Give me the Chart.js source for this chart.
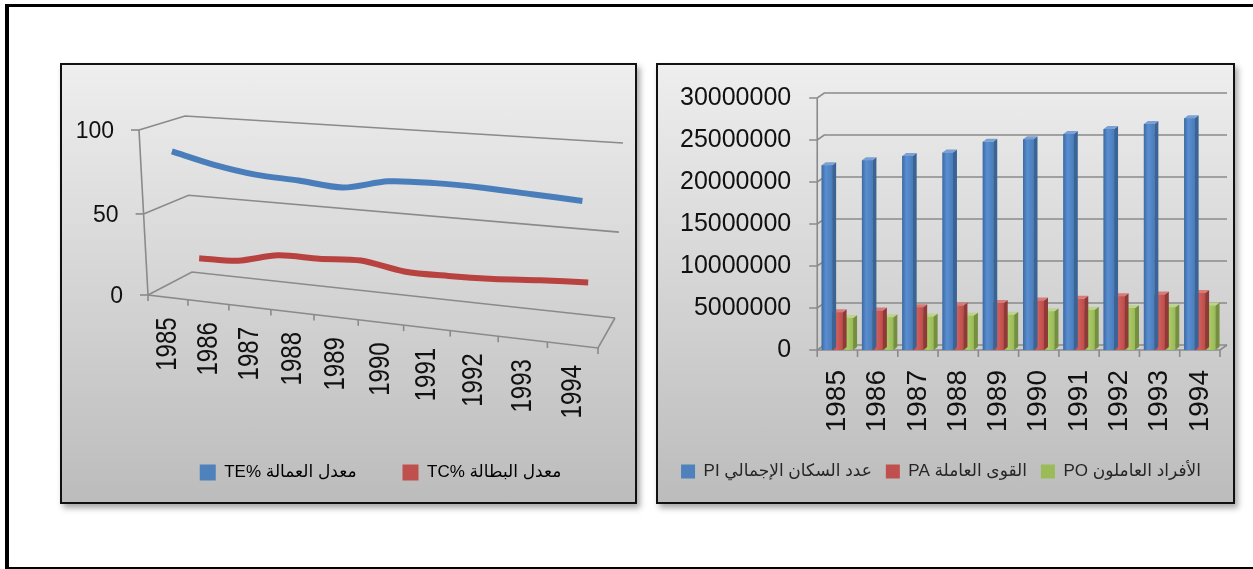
<!DOCTYPE html>
<html lang="ar">
<head>
<meta charset="utf-8">
<script src="https://cdn.jsdelivr.net/npm/chart.js@4.4.1/dist/chart.umd.min.js"></script>
<style>
  html, body { margin: 0; padding: 0; background: #fff; }
  body { width: 1253px; height: 569px; position: relative; overflow: hidden; }
  .frame {
    position: absolute; left: 5px; top: 4px; width: 1300px; height: 565px;
    border-left: 4px solid #000; border-top: 3px solid #000; border-bottom: 2px solid #000;
    box-sizing: border-box;
  }
  .panel {
    position: absolute; top: 63px; height: 441px;
    border: 2px solid #111; box-sizing: border-box;
    background: linear-gradient(#eeeeee, #bcbcbc);
    box-shadow: 3px 4px 6px rgba(0, 0, 0, 0.35);
  }
  #leftPanel { left: 60px; width: 577px; }
  #rightPanel { left: 656px; width: 579px; }
  .panel canvas { position: absolute; left: 0; top: 0; }
</style>
</head>
<body>
<div class="frame"></div>
<div class="panel" id="leftPanel"><canvas id="rateChart" width="573" height="437"></canvas></div>
<div class="panel" id="rightPanel"><canvas id="popChart" width="575" height="437"></canvas></div>
<script>
const years = ["1985", "1986", "1987", "1988", "1989", "1990", "1991", "1992", "1993", "1994"];

// rates, percent
const employmentRate = [86, 80, 76, 74.5, 72.5, 78, 79, 78.5, 77, 75.5];
const unemploymentRate = [14, 15, 21, 21.5, 23, 19, 19, 20, 22, 23.5];
const rateTicks = [0, 50, 100];

// persons
const totalPopulation = [22000000, 22600000, 23100000, 23500000, 24800000, 25100000, 25700000, 26300000, 26900000, 27600000];
const labourForce = [4500000, 4700000, 5100000, 5300000, 5600000, 5900000, 6100000, 6400000, 6600000, 6800000];
const employedPersons = [3800000, 3900000, 4000000, 4100000, 4200000, 4600000, 4800000, 5000000, 5100000, 5300000];
const populationMax = 30000000;
const populationStep = 5000000;

const textFont = '"Liberation Sans", "DejaVu Sans", sans-serif';
const gridColor = "#8a8a8a";

// ---------- left chart: lines standing in a tilted box ----------

// unit square -> quad (p0 = u0v0, p1 = u1v0, p2 = u1v1, p3 = u0v1)
function quadMap(p0, p1, p2, p3) {
  const sx = p0[0] - p1[0] + p2[0] - p3[0];
  const sy = p0[1] - p1[1] + p2[1] - p3[1];
  const dx1 = p1[0] - p2[0], dx2 = p3[0] - p2[0];
  const dy1 = p1[1] - p2[1], dy2 = p3[1] - p2[1];
  const den = dx1 * dy2 - dx2 * dy1;
  const g = (sx * dy2 - dx2 * sy) / den;
  const h = (dx1 * sy - sx * dy1) / den;
  const a = p1[0] - p0[0] + g * p1[0], b = p3[0] - p0[0] + h * p3[0], c = p0[0];
  const d = p1[1] - p0[1] + g * p1[1], e = p3[1] - p0[1] + h * p3[1], f = p0[1];
  return (u, v) => {
    const w = g * u + h * v + 1;
    return [(a * u + b * v + c) / w, (d * u + e * v + f) / w];
  };
}

const backWall = quadMap([130, 207], [553, 253], [561, 78], [123, 51]);
const frontWall = quadMap([86, 230], [536, 283], [544, 96], [77, 65]);

function project(u, v, depth) {
  const b = backWall(u, v), f = frontWall(u, v);
  return [b[0] + (f[0] - b[0]) * depth, b[1] + (f[1] - b[1]) * depth];
}

function unitX(scale, i) {
  return (scale.getPixelForValue(i) - scale.left) / scale.width;
}
function unitY(scale, value) {
  return (scale.bottom - scale.getPixelForValue(value)) / scale.height;
}

const perspectiveBox = {
  id: "perspectiveBox",
  afterDatasetsUpdate(chart, args, opts) {
    const xs = chart.scales.x, ys = chart.scales.y;
    chart.data.datasets.forEach((ds, di) => {
      const meta = chart.getDatasetMeta(di);
      const depth = opts.depth[di];
      meta.data.forEach((pt, i) => {
        const p = project(unitX(xs, i), unitY(ys, ds.data[i]), depth);
        pt.x = p[0];
        pt.y = p[1];
      });
      meta.dataset.points = meta.data;
      if (meta.dataset.updateControlPoints) {
        meta.dataset.updateControlPoints(chart.chartArea, "x");
      }
    });
  },
  beforeDatasetsDraw(chart, args, opts) {
    const ctx = chart.ctx;
    const xs = chart.scales.x, ys = chart.scales.y;
    const line = (pts) => {
      ctx.beginPath();
      ctx.moveTo(pts[0][0], pts[0][1]);
      pts.slice(1).forEach((p) => ctx.lineTo(p[0], p[1]));
      ctx.stroke();
    };
    ctx.save();
    ctx.strokeStyle = gridColor;
    ctx.lineWidth = 1.6;

    // side wall + back wall lines, one per value tick
    rateTicks.forEach((t) => {
      const v = unitY(ys, t);
      line([project(0, v, 1), project(0, v, 0), project(1, v, 0)]);
      const fp = project(0, v, 1);
      line([[fp[0] - 8, fp[1]], fp]);
    });
    // value axis and floor outline
    line([project(0, 1, 1), project(0, 0, 1), project(1, 0, 1), project(1, 0, 0)]);

    // category tick marks on the front floor edge
    const n = years.length;
    for (let k = 0; k <= n; k++) {
      const p = project(k / n, 0, 1);
      line([p, [p[0], p[1] + 6]]);
    }

    // value labels
    ctx.fillStyle = "#111";
    ctx.font = "23px " + textFont;
    ctx.textAlign = "right";
    ctx.textBaseline = "middle";
    rateTicks.forEach((t) => {
      const p = project(0, unitY(ys, t), 1);
      ctx.fillText(String(t), p[0] - 25, p[1] + 2);
    });

    // year labels, rotated
    ctx.font = "24px " + textFont;
    years.forEach((yr, i) => {
      const p = project(unitX(xs, i), 0, 1);
      ctx.save();
      ctx.translate(p[0], p[1] + 20);
      ctx.scale(1.25, 1);
      ctx.rotate(-Math.PI / 2);
      ctx.fillText(yr, 0, 0);
      ctx.restore();
    });
    ctx.restore();
  }
};

new Chart(document.getElementById("rateChart"), {
  type: "line",
  data: {
    labels: years,
    datasets: [
      {
        label: "TE% معدل العمالة",
        data: employmentRate,
        borderColor: "#4a7ebb",
        backgroundColor: "#4f81bd",
        borderWidth: 6,
        tension: 0.3,
        capBezierPoints: false,
        pointRadius: 0,
        clip: false
      },
      {
        label: "TC% معدل البطالة",
        data: unemploymentRate,
        borderColor: "#b8423f",
        backgroundColor: "#c0504d",
        borderWidth: 6,
        tension: 0.3,
        capBezierPoints: false,
        pointRadius: 0,
        clip: false
      }
    ]
  },
  options: {
    responsive: false,
    animation: false,
    events: [],
    layout: { padding: { left: 64, bottom: 11 } },
    scales: {
      x: { display: false, offset: true },
      y: { display: false, min: 0, max: 100 }
    },
    plugins: {
      tooltip: { enabled: false },
      perspectiveBox: { depth: [0.75, 0.25] },
      legend: {
        position: "bottom",
        labels: {
          boxWidth: 16,
          boxHeight: 16,
          padding: 46,
          color: "#262626",
          font: { family: textFont, size: 17 },
          generateLabels(chart) {
            return chart.data.datasets.map((ds, i) => ({
              text: ds.label,
              fillStyle: ds.backgroundColor,
              strokeStyle: ds.backgroundColor,
              lineWidth: 0,
              datasetIndex: i
            }));
          }
        }
      }
    }
  },
  plugins: [perspectiveBox]
});

// ---------- right chart: columns with depth ----------

const columnDepth = {
  id: "columnDepth",
  beforeDatasetsDraw(chart, args, o) {
    const { ctx, chartArea: a, scales: { x, y } } = chart;
    ctx.save();
    ctx.strokeStyle = gridColor;
    ctx.lineWidth = 1.6;
    y.ticks.forEach((t) => {
      const py = y.getPixelForValue(t.value);
      ctx.beginPath();
      ctx.moveTo(a.left - 8, py);
      ctx.lineTo(a.left, py);
      ctx.lineTo(a.left + o.dx, py - o.dy);
      ctx.lineTo(a.right + o.dx, py - o.dy);
      ctx.stroke();
    });
    ctx.beginPath();
    ctx.moveTo(a.left, a.top);
    ctx.lineTo(a.left, a.bottom);
    ctx.lineTo(a.right, a.bottom);
    ctx.lineTo(a.right + o.dx, a.bottom - o.dy);
    ctx.stroke();
    const n = x.ticks.length;
    for (let k = 0; k <= n; k++) {
      const px = a.left + (k * a.width) / n;
      ctx.beginPath();
      ctx.moveTo(px, a.bottom);
      ctx.lineTo(px, a.bottom + 7);
      ctx.stroke();
    }
    ctx.restore();
  },
  afterDatasetDraw(chart, args, o) {
    const ctx = chart.ctx;
    const face = o.faces[args.index];
    ctx.save();
    args.meta.data.forEach((bar) => {
      const { x, y, base, width } = bar.getProps(["x", "y", "base", "width"], true);
      const r = x + width / 2, l = x - width / 2;
      // shaded front
      const grad = ctx.createLinearGradient(l, 0, r, 0);
      grad.addColorStop(0, face.dark);
      grad.addColorStop(0.4, face.light);
      grad.addColorStop(1, face.front);
      ctx.fillStyle = grad;
      ctx.fillRect(l, y, r - l, base - y);
      // right side
      ctx.fillStyle = face.side;
      ctx.beginPath();
      ctx.moveTo(r, y);
      ctx.lineTo(r + o.bx, y - o.by);
      ctx.lineTo(r + o.bx, base - o.by);
      ctx.lineTo(r, base);
      ctx.closePath();
      ctx.fill();
      // top
      ctx.fillStyle = face.top;
      ctx.beginPath();
      ctx.moveTo(l, y);
      ctx.lineTo(r, y);
      ctx.lineTo(r + o.bx, y - o.by);
      ctx.lineTo(l + o.bx, y - o.by);
      ctx.closePath();
      ctx.fill();
    });
    ctx.restore();
  }
};

new Chart(document.getElementById("popChart"), {
  type: "bar",
  data: {
    labels: years,
    datasets: [
      { label: "PI عدد السكان الإجمالي", data: totalPopulation, backgroundColor: "#4f81bd" },
      { label: "PA القوى العاملة", data: labourForce, backgroundColor: "#c0504d" },
      { label: "PO الأفراد العاملون", data: employedPersons, backgroundColor: "#9bbb59" }
    ]
  },
  options: {
    responsive: false,
    animation: false,
    events: [],
    layout: { padding: { left: 4, right: 13, top: 28, bottom: 12 } },
    datasets: { bar: { categoryPercentage: 0.78, barPercentage: 1 } },
    scales: {
      x: {
        afterFit(scale) {
          scale.height = 99;
          scale.paddingLeft = 0;
          scale.paddingRight = 0;
        },
        grid: { display: false },
        border: { display: false },
        ticks: {
          minRotation: 90,
          maxRotation: 90,
          padding: 12,
          color: "#111",
          font: { family: textFont, size: 28 }
        }
      },
      y: {
        min: 0,
        max: populationMax,
        grid: { display: false },
        border: { display: false },
        ticks: {
          stepSize: populationStep,
          padding: 18,
          color: "#111",
          font: { family: textFont, size: 25 },
          callback: (v) => String(v)
        }
      }
    },
    plugins: {
      tooltip: { enabled: false },
      columnDepth: {
        dx: 7, dy: 5, bx: 4, by: 3,
        faces: [
          { front: "#4a7dbb", light: "#5a8ed0", dark: "#3d6aa2", side: "#3b6496", top: "#7aa0d4" },
          { front: "#bf4d4a", light: "#d0605d", dark: "#a33f3c", side: "#8f3a38", top: "#d67b78" },
          { front: "#99ba56", light: "#aacb68", dark: "#839f48", side: "#74903f", top: "#bdd58a" }
        ]
      },
      legend: {
        position: "bottom",
        labels: {
          boxWidth: 14,
          boxHeight: 14,
          padding: 14,
          color: "#262626",
          font: { family: textFont, size: 17 }
        }
      }
    }
  },
  plugins: [columnDepth]
});
</script>
</body>
</html>
